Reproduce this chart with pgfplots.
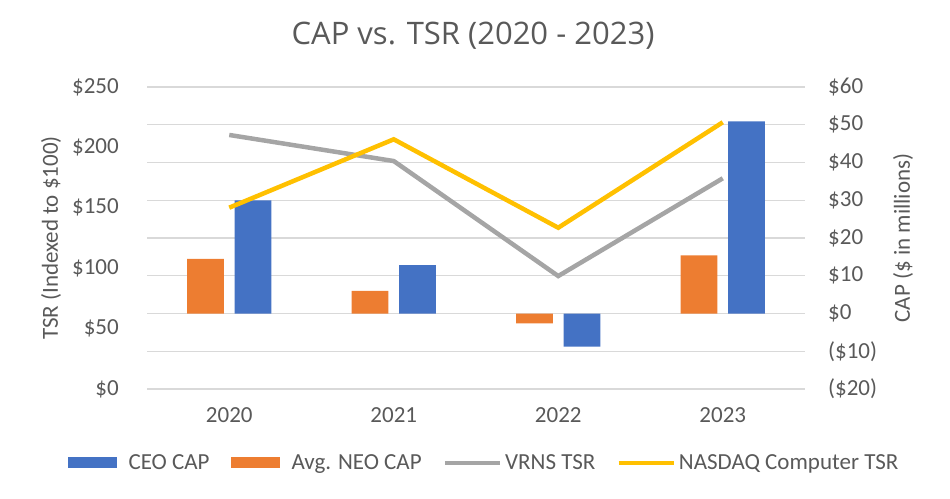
\documentclass[border=0pt]{standalone}
\usepackage{pgfplots}
\pgfplotsset{compat=1.18}
\usepackage{fontspec}
\setmainfont{Carlito}
\newfontfamily\titlefont{Open Sans}

\definecolor{ceoblue}{HTML}{4472C4}
\definecolor{neoorange}{HTML}{ED7D31}
\definecolor{vrnsgray}{HTML}{A5A5A5}
\definecolor{nasdaqgold}{HTML}{FFC000}
\definecolor{gridgray}{HTML}{D9D9D9}
\definecolor{txt}{HTML}{595959}

\pgfplotsset{
  chartbase/.style={
    at={(147pt,109pt)}, anchor=south west,
    scale only axis, width=658pt, height=302pt,
    xmin=-0.5, xmax=3.5,
    axis line style={draw=none},
    major tick length=0pt,
    tick label style={font=\fontsize{23}{27}\selectfont, color=txt},
    label style={font=\fontsize{23}{27}\selectfont, color=txt},
  },
  barkey/.style={legend image code/.code={%
    \fill[##1] (0pt,-5.5pt) rectangle (49pt,5.5pt); \path (61pt,0pt);}},
  linekey/.style={legend image code/.code={%
    \draw[##1] (0pt,0pt) -- (55pt,0pt); \path (58pt,0pt);}},
}

\begin{document}
\begin{tikzpicture}
\path[use as bounding box] (0pt,0pt) rectangle (950pt,498pt);

% bars on the right-hand CAP axis, with the grid
\begin{axis}[chartbase,
  ymin=-20, ymax=60,
  xtick={0,1,2,3}, xticklabels={2020,2021,2022,2023},
  xticklabel style={anchor=north, inner sep=0pt, yshift=-18pt},
  ytick={-20,-10,...,60},
  yticklabels={(\$20),(\$10),\$0,\$10,\$20,\$30,\$40,\$50,\$60},
  yticklabel pos=right,
  yticklabel style={anchor=west, inner sep=0pt, xshift=23pt},
  ymajorgrids, grid style={draw=gridgray, line width=1.3pt},
  ylabel={CAP (\$ in millions)},
  ylabel style={at={(axis description cs:1.149,0.5)}, anchor=center, rotate=0},
  title={CAP vs. TSR (2020 - 2023)},
  title style={at={(axis description cs:0.4954,1.1225)}, anchor=base,
    font=\titlefont\fontsize{31}{36}\selectfont, color=txt},
]
\addplot[ybar, bar width=36.7pt, bar shift=-23.8pt, fill=neoorange, draw=none]
  coordinates {(0,14.5) (1,6.0) (2,-2.6) (3,15.4)};
\addplot[ybar, bar width=36.7pt, bar shift=23.8pt, fill=ceoblue, draw=none]
  coordinates {(0,30.0) (1,12.8) (2,-8.8) (3,50.9)};
\end{axis}

% TSR lines on the left-hand axis
\begin{axis}[chartbase,
  ymin=0, ymax=250,
  xtick=\empty,
  ytick={0,50,...,250},
  yticklabels={\$0,\$50,\$100,\$150,\$200,\$250},
  yticklabel style={anchor=east, inner sep=0pt, xshift=-28pt},
  ylabel={TSR (Indexed to \$100)},
  ylabel style={at={(axis description cs:-0.1459,0.5)}, anchor=center},
  legend columns=4,
  legend style={at={(axis description cs:0.5106,-0.245)}, anchor=center,
    draw=none, fill=none, font=\fontsize{23}{27}\selectfont, text=txt,
    nodes={inner sep=0pt},
    /tikz/every even column/.append style={column sep=21pt}},
]
\addlegendimage{fill=ceoblue, draw=none, barkey}
\addlegendimage{fill=neoorange, draw=none, barkey}
\addplot[vrnsgray, line width=4.5pt, linekey]
  coordinates {(0,210.3) (1,188.7) (2,93.5) (3,174.4)};
\addplot[nasdaqgold, line width=4.5pt, linekey]
  coordinates {(0,150.1) (1,206.7) (2,133.5) (3,220.8)};
\legend{CEO CAP, Avg. NEO CAP, VRNS TSR, NASDAQ Computer TSR}
\end{axis}
\end{tikzpicture}
\end{document}
